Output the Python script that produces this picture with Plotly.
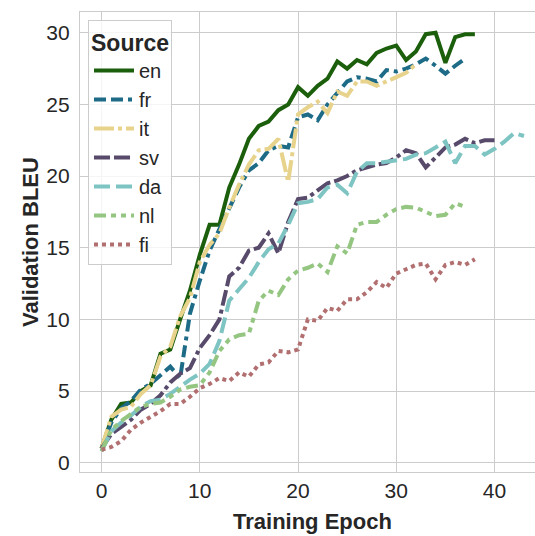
import plotly.graph_objects as go

# ---- data ----
languages = ["en", "fr", "it", "sv", "da", "nl", "fi"]

en = [1.0, 3.0, 4.1, 4.2, 5.0, 5.4, 7.6, 7.9, 10.0, 12.0, 14.5, 16.6, 16.6, 19.2, 20.8,
      22.6, 23.5, 23.8, 24.6, 25.0, 26.2, 25.6, 26.3, 26.8, 28.0, 27.5, 28.1, 27.8, 28.6,
      28.9, 29.1, 28.1, 28.7, 29.9, 30.0, 27.9, 29.7, 29.9, 29.9]
fr = [1.0, 2.8, 3.8, 4.3, 5.1, 5.5, 6.1, 6.7, 5.9, 10.4, 12.7, 14.8, 16.3, 17.8, 19.2,
      20.4, 20.9, 21.8, 22.1, 22.0, 24.1, 24.3, 23.9, 25.0, 25.8, 26.6, 26.9, 26.8, 26.6,
      27.4, 27.3, 27.5, 27.8, 28.2, 27.7, 27.15, 27.7, 28.2]
it = [1.0, 3.2, 3.7, 3.9, 4.8, 5.4, 7.4, 8.1, 10.2, 11.5, 14.0, 15.2, 16.0, 17.8, 19.4,
      20.8, 21.8, 21.9, 22.6, 19.6, 24.3, 24.8, 25.2, 24.4, 25.9, 25.6, 26.6, 26.6, 26.3,
      26.6, 26.9, 27.2, 27.8]
sv = [1.0, 2.0, 2.5, 3.0, 3.7, 4.1, 4.7, 5.6, 6.2, 6.6, 8.0, 8.9, 10.0, 13.0, 13.6, 14.8,
      15.0, 16.0, 14.6, 16.8, 18.4, 18.5, 19.0, 19.5, 19.7, 20.0, 20.4, 20.6, 20.8, 20.9,
      21.3, 21.8, 21.6, 20.6, 21.3, 22.0, 22.2, 22.6, 22.3, 22.5, 22.5]
da = [0.8, 2.2, 2.8, 3.3, 3.9, 4.3, 4.4, 4.8, 5.3, 5.8, 6.2, 6.9, 8.5, 11.3, 12.1, 12.9,
      14.0, 14.9, 15.3, 16.6, 18.1, 18.2, 18.4, 19.2, 19.4, 18.8, 20.3, 20.9, 20.9, 21.0,
      21.1, 21.2, 21.5, 21.6, 22.0, 22.4, 20.9, 22.1, 22.1, 21.5, 21.9, 22.4, 23.0, 22.8]
nl = [0.8, 2.3, 2.9, 3.4, 3.9, 4.1, 4.2, 4.6, 5.1, 5.3, 5.4, 6.3, 7.8, 8.6, 8.9, 9.0,
      11.3, 12.0, 11.7, 12.8, 13.4, 13.6, 13.9, 13.3, 15.1, 14.6, 16.6, 16.8, 16.8, 17.3,
      17.7, 17.85, 17.8, 17.5, 17.2, 17.3, 18.1, 17.85]
fi = [0.9, 1.1, 1.5, 2.3, 2.8, 3.2, 3.6, 4.1, 4.1, 4.6, 5.2, 5.5, 5.9, 5.7, 6.3, 6.0,
      6.85, 7.0, 7.8, 7.7, 7.9, 10.0, 9.9, 10.8, 10.6, 11.4, 11.4, 11.9, 12.6, 12.2, 13.2,
      13.5, 13.8, 13.9, 12.8, 13.8, 14.0, 13.8, 14.2]

series = {"en": en, "fr": fr, "it": it, "sv": sv, "da": da, "nl": nl, "fi": fi}

x_ticks = [0, 10, 20, 30, 40]
y_ticks = [0, 5, 10, 15, 20, 25, 30]

# ---- styles ----
colors = {
    "en": "#1b5e0b",
    "fr": "#1d6b86",
    "it": "#e7d38c",
    "sv": "#574a6b",
    "da": "#7ec4c3",
    "nl": "#94c682",
    "fi": "#b26f70",
}
dashes = {
    "en": "solid",
    "fr": "12px,5px,12px,5px,4px,5px",
    "it": "20px,4px,4px,4px",
    "sv": "16px,4px,16px,4px,4px,4px",
    "da": "16px,6px",
    "nl": "12px,5px,5px,5px,5px,5px",
    "fi": "4px,4px",
}

FONT = "Liberation Sans, Arial, sans-serif"
TXT = "#262626"
GRID = "#cccccc"

L, R, T, B = 80, 0, 12, 64
W, H = 535, 536
PW, PH = W - L - R, H - T - B

fig = go.Figure()
for lang in languages:
    vals = series[lang]
    fig.add_trace(go.Scatter(
        x=list(range(len(vals))), y=vals, mode="lines", name=lang,
        legendgroup=lang,
        line=dict(color=colors[lang], width=4, dash=dashes[lang]),
    ))

fig.update_layout(
    width=W, height=H,
    margin=dict(l=L, r=R, t=T, b=B, autoexpand=False),
    paper_bgcolor="white", plot_bgcolor="white",
    font=dict(family=FONT, size=21, color=TXT),
    showlegend=True,
    legend=dict(
        title=dict(text="<b>Source</b>", font=dict(size=23, color=TXT)),
        x=(88 - L) / PW, y=1 - (20 - T) / PH, xanchor="left", yanchor="top",
        bgcolor="rgba(255,255,255,0.8)", bordercolor=GRID, borderwidth=1,
        font=dict(size=20, color=TXT),
        tracegroupgap=0,
        itemwidth=40,
    ),
    xaxis=dict(
        range=[-2.19, 44.12], tickvals=x_ticks, showgrid=True, gridcolor=GRID,
        gridwidth=1.2, zeroline=False, showline=True, linecolor=GRID, linewidth=1.2,
        mirror=True, ticks="", tickfont=dict(size=21, color=TXT), automargin=False,
    ),
    yaxis=dict(
        range=[-0.65, 31.45], tickvals=y_ticks, showgrid=True, gridcolor=GRID,
        gridwidth=1.2, zeroline=False, showline=True, linecolor=GRID, linewidth=1.2,
        ticks="", tickfont=dict(size=21, color=TXT), automargin=False,
        ticklabelstandoff=5,
    ),
    annotations=[
        dict(text="<b>Training Epoch</b>", xref="paper", yref="paper",
             x=(312 - L) / PW, y=-(521 - (T + PH)) / PH, xanchor="center", yanchor="middle",
             showarrow=False, font=dict(size=22, color=TXT)),
        dict(text="<b>Validation BLEU</b>", xref="paper", yref="paper",
             x=-(L - 30) / PW, y=0.5, xanchor="center", yanchor="middle", textangle=-90,
             showarrow=False, font=dict(size=22, color=TXT)),
    ],
)

fig.write_html(
    "out.html",
    config={"displayModeBar": False},
    post_script="document.body.style.margin='0';document.body.style.overflow='hidden';",
)
